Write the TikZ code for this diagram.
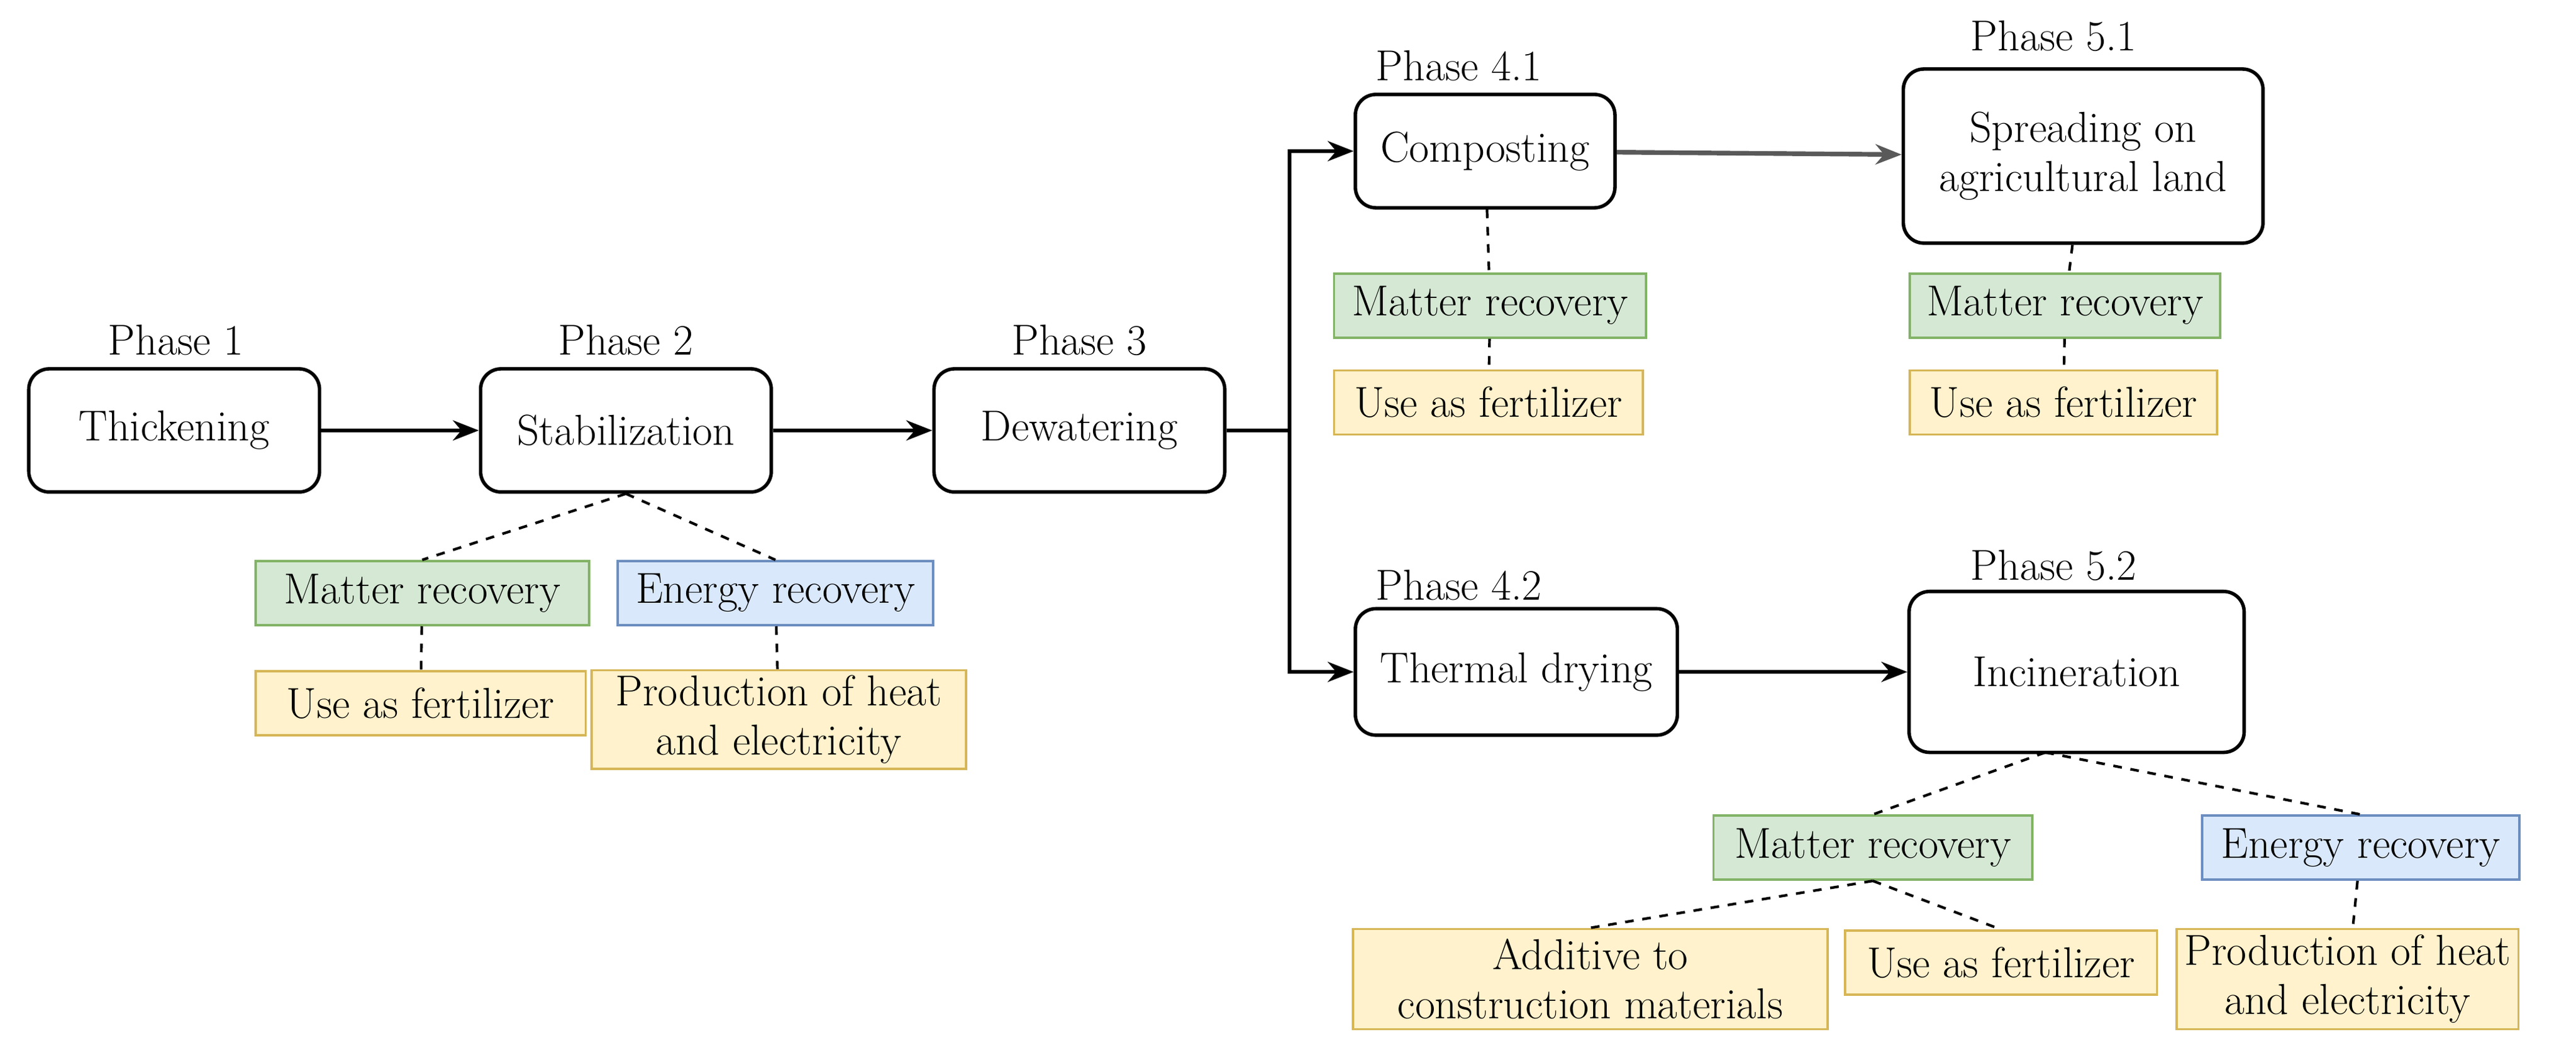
\documentclass[tikz,border=0pt]{standalone}
\usetikzlibrary{arrows.meta}
\definecolor{gf}{HTML}{D5E8D4}\definecolor{gd}{HTML}{82B366}
\definecolor{bf}{HTML}{DAE8FC}\definecolor{bd}{HTML}{6C8EBF}
\definecolor{yf}{HTML}{FFF2CC}\definecolor{yd}{HTML}{D6B656}
\begin{document}
\begin{tikzpicture}[x=0.02cm,y=-0.02cm,
  every node/.style={font=\fontsize{15}{17}\selectfont, inner sep=0pt},
  proc/.style={draw=black, line width=1.2pt, rounded corners=0.25cm, align=center},
  lbl/.style={},
  tag/.style={draw, line width=0.8pt, align=center, minimum height=0.78cm},
  green/.style={tag, fill=gf, draw=gd},
  blue/.style={tag, fill=bf, draw=bd},
  yel/.style={tag, fill=yf, draw=yd},
  arr/.style={-{Stealth[length=9pt,width=7pt]}, line width=1.2pt},
  dsh/.style={dashed, line width=0.9pt}]
\useasboundingbox (0,0) rectangle (1568,642);
% process boxes
\node[proc, minimum width=3.54cm, minimum height=1.5cm] (thk) at (106,262) {Thickening};
\node[proc, minimum width=3.54cm, minimum height=1.5cm] (stb) at (381,262) {Stabilization};
\node[proc, minimum width=3.54cm, minimum height=1.5cm] (dew) at (657,262) {Dewatering};
\node[proc, minimum width=3.16cm, minimum height=1.38cm] (cmp) at (904,92) {Composting};
\node[proc, minimum width=4.38cm, minimum height=2.12cm] (spr) at (1268,95) {Spreading on\\agricultural land};
\node[proc, minimum width=3.92cm, minimum height=1.54cm] (thd) at (923,409) {Thermal drying};
\node[proc, minimum width=4.08cm, minimum height=1.96cm] (inc) at (1264,409) {Incineration};
% phase labels
\node (p1) at (107,207) {Phase 1};
\node (p2) at (381,207) {Phase 2};
\node (p3) at (657,207) {Phase 3};
\node (p41) at (888,40) {Phase 4.1};
\node (p51) at (1250,22) {Phase 5.1};
\node (p42) at (888,356) {Phase 4.2};
\node (p52) at (1250,344) {Phase 5.2};
% tags
\node[green, minimum width=4.06cm] (m2) at (257,361) {Matter recovery};
\node[blue, minimum width=3.84cm] (e2) at (472,361) {Energy recovery};
\node[yel, minimum width=4.02cm] (f2) at (256,428) {Use as fertilizer};
\node[yel, minimum width=4.56cm, minimum height=1.2cm] (h2) at (474,438) {Production of heat\\and electricity};
\node[green, minimum width=3.8cm] (m41) at (907,186) {Matter recovery};
\node[yel, minimum width=3.76cm] (f41) at (906,245) {Use as fertilizer};
\node[green, minimum width=3.78cm] (m51) at (1257,186) {Matter recovery};
\node[yel, minimum width=3.74cm] (f51) at (1256,245) {Use as fertilizer};
\node[green, minimum width=3.88cm] (m52) at (1140,516) {Matter recovery};
\node[blue, minimum width=3.86cm] (e52) at (1437,516) {Energy recovery};
\node[yel, minimum width=5.78cm, minimum height=1.22cm] (a52) at (968,596) {Additive to\\construction materials};
\node[yel, minimum width=3.8cm] (f52) at (1218,586) {Use as fertilizer};
\node[yel, minimum width=4.16cm, minimum height=1.22cm] (h52) at (1429,596) {Production of heat\\and electricity};
% arrows
\coordinate (j) at (785,262);
\draw[arr] (thk) -- (stb);
\draw[arr] (stb) -- (dew);
\draw[line width=1.2pt] (dew.east) -- (j);
\draw[arr] (j) |- (cmp.west);
\draw[arr] (j) |- (thd.west);
\draw[arr, draw=black!65, line width=1.6pt] (cmp) -- (spr);
\draw[arr] (thd) -- (inc);
% dashed links
\draw[dsh] (stb.south) -- (m2.north);
\draw[dsh] (stb.south) -- (e2.north);
\draw[dsh] (m2) -- (f2);
\draw[dsh] (e2) -- (h2);
\draw[dsh] (cmp) -- (m41);
\draw[dsh] (m41) -- (f41);
\draw[dsh] (spr) -- (m51);
\draw[dsh] (m51) -- (f51);
\coordinate (ib) at (1245,458);
\draw[dsh] (ib) -- (m52.north);
\draw[dsh] (ib) -- (e52.north);
\draw[dsh] (m52.south) -- (a52.north);
\draw[dsh] (m52.south) -- (f52.north);
\draw[dsh] (e52) -- (h52);
\end{tikzpicture}
\end{document}
